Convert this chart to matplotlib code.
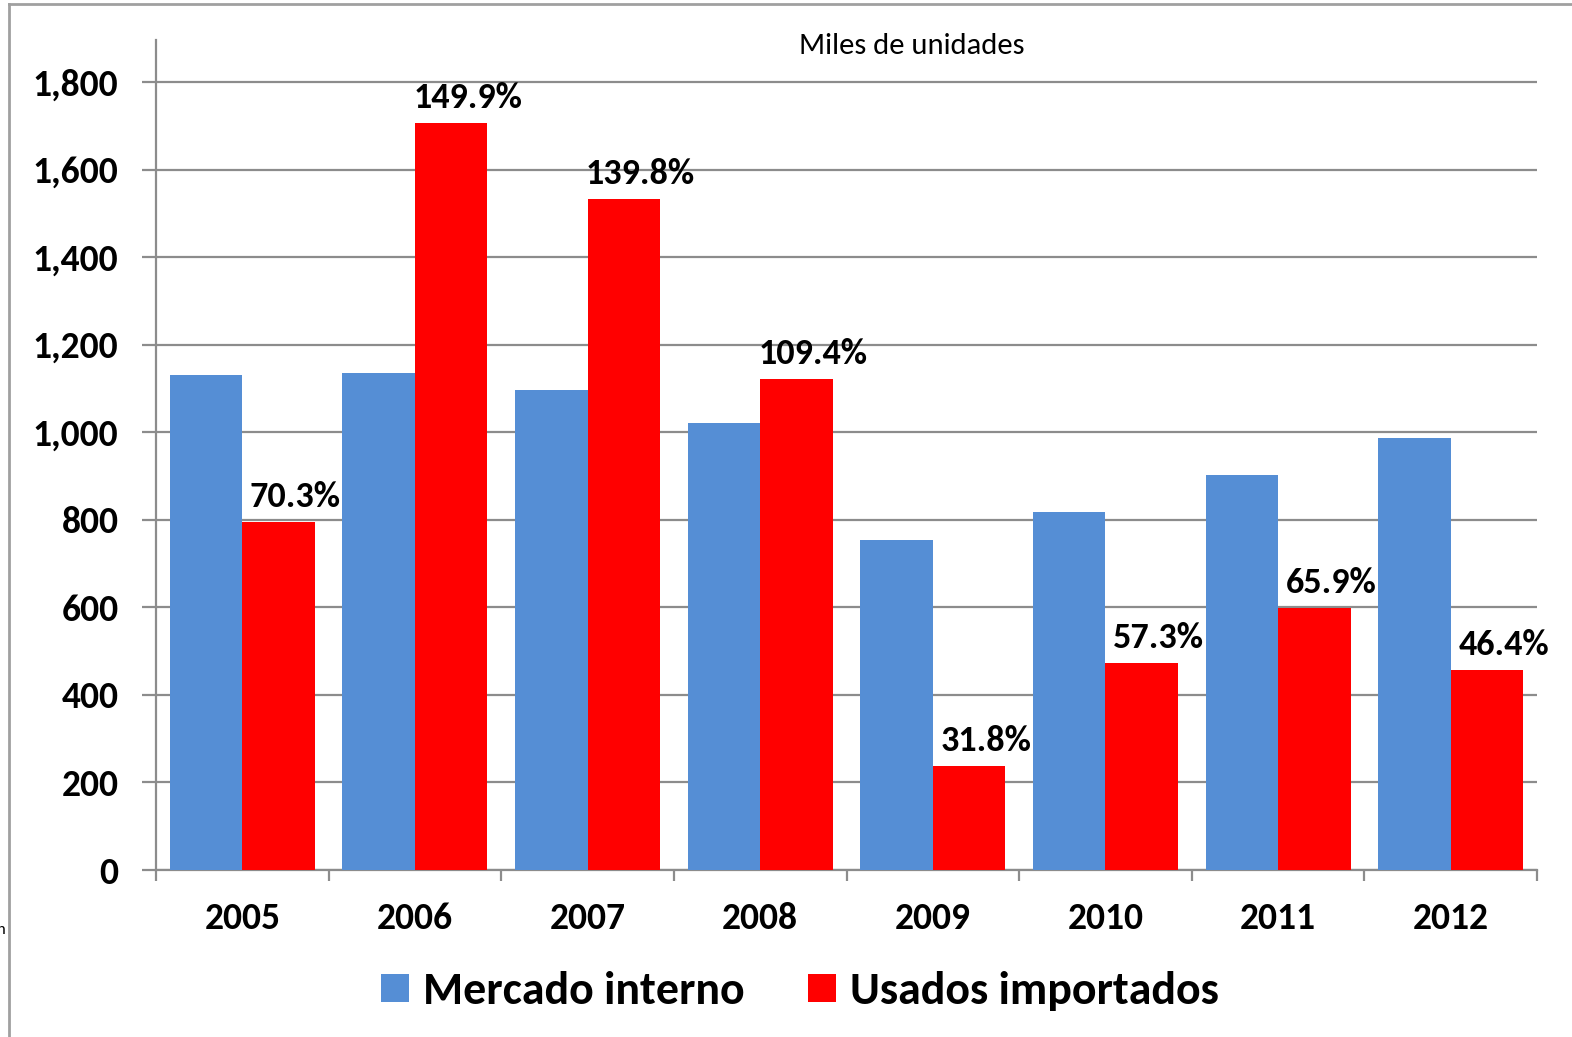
import matplotlib
matplotlib.use("Agg")
import matplotlib.pyplot as plt
import numpy as np
from matplotlib.patches import Patch
from matplotlib.lines import Line2D

years = ["2005", "2006", "2007", "2008", "2009", "2010", "2011", "2012"]
mercado_interno = [1131, 1135, 1096, 1021, 754, 818, 902, 987]
usados_importados = [795, 1706, 1533, 1122, 238, 473, 598, 457]
share_pct = [70.3, 149.9, 139.8, 109.4, 31.8, 57.3, 65.9, 46.4]
yticks = [0, 200, 400, 600, 800, 1000, 1200, 1400, 1600, 1800]

BLUE = "#558ED5"
RED = "#FF0000"
GRAY = "#8C8C8C"
FONT = "Carlito"

W, H = 1572, 1037
fig = plt.figure(figsize=(W / 100, H / 100), dpi=100)
ax = fig.add_axes([156 / W, (H - 870) / H, (1537 - 156) / W, (870 - 40) / H])

x = np.arange(len(years))
bw = 0.42
ax.bar(x - bw / 2, mercado_interno, bw, color=BLUE, zorder=3)
ax.bar(x + bw / 2, usados_importados, bw, color=RED, zorder=3)

ax.set_xlim(-0.5, len(years) - 0.5)
ax.set_ylim(0, 1896)

ax.set_yticks(yticks)
ax.set_yticklabels([f"{v:,}" for v in yticks], fontfamily=FONT, fontweight="bold", fontsize=27)
ax.yaxis.grid(True, color=GRAY, linewidth=1.6, zorder=0)
ax.tick_params(axis="y", length=10, width=1.6, color=GRAY, pad=17)

ax.set_xticks(x)
ax.set_xticklabels(years, fontfamily=FONT, fontweight="bold", fontsize=27)
ax.tick_params(axis="x", which="major", length=0, pad=23)
ax.set_xticks(np.arange(-0.5, len(years)), minor=True)
ax.tick_params(axis="x", which="minor", length=8, width=1.6, color=GRAY)

for s in ["top", "right"]:
    ax.spines[s].set_visible(False)
for s in ["left", "bottom"]:
    ax.spines[s].set_color(GRAY)
    ax.spines[s].set_linewidth(1.6)

for xi, v, p in zip(x, usados_importados, share_pct):
    ax.annotate(f"{p:.1f}%", (xi + bw / 2, v), xytext=(12, 18), textcoords="offset points",
                ha="center", va="center", fontfamily=FONT, fontweight="bold", fontsize=26,
                zorder=5)

fig.text(912 / W, 1 - 46 / H, "Miles de unidades", ha="center", va="center",
         fontfamily=FONT, fontsize=22)

handles = [Patch(facecolor=BLUE, label="Mercado interno"),
           Patch(facecolor=RED, label="Usados importados")]
fig.legend(handles=handles, loc="center", bbox_to_anchor=(800 / W, 1 - 991 / H), ncol=2,
           frameon=False, prop={"family": FONT, "weight": "bold", "size": 33},
           handlelength=0.6, handleheight=0.55, handletextpad=0.3, columnspacing=1.4)

# outer frame (partially clipped in the original)
fig.add_artist(Line2D([9 / W, 9 / W], [0, 1 - 4 / H], transform=fig.transFigure,
                      color="#A0A0A0", linewidth=2))
fig.add_artist(Line2D([9 / W, 1], [1 - 4 / H, 1 - 4 / H], transform=fig.transFigure,
                      color="#A0A0A0", linewidth=2))
fig.text(-3 / W, 1 - 930 / H, "n", ha="left", va="center", fontfamily=FONT, fontsize=12)

fig.savefig("out.png", dpi=100)
